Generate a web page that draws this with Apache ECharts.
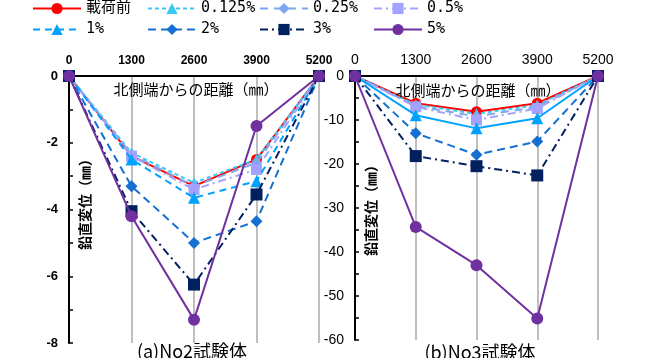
<!DOCTYPE html>
<html><head><meta charset="utf-8">
<script src="https://cdn.jsdelivr.net/npm/echarts@6/dist/echarts.min.js"></script>
<style>html,body{margin:0;padding:0;background:#fff}#c{width:662px;height:358px}</style>
</head><body><div id="c"></div>
<script>
const xVals = [0, 1300, 2600, 3900, 5200];
const xTicks = [0, 1300, 2600, 3900, 5200];
const names = ['載荷前', '0.125%', '0.25%', '0.5%', '1%', '2%', '3%', '5%'];
const leftLabelsY = [0, -2, -4, -6, -8];
const rightLabelsY = [0, -10, -20, -30, -40, -50, -60];

// (a) No2
const a_pre   = [0, -2.4, -3.3, -2.5, 0];
const a_0125  = [0, -2.3, -3.2, -2.5, 0];
const a_025   = [0, -2.35, -3.3, -2.6, 0];
const a_05    = [0, -2.4, -3.4, -2.8, 0];
const a_1     = [0, -2.5, -3.65, -3.15, 0];
const a_2     = [0, -3.3, -5.0, -4.35, 0];
const a_3     = [0, -4.05, -6.25, -3.55, 0];
const a_5     = [0, -4.2, -7.3, -1.5, 0];
// (b) No3
const b_pre   = [0, -6.2, -8.1, -6.2, 0];
const b_0125  = [0, -6.5, -8.6, -6.6, 0];
const b_025   = [0, -6.8, -9.2, -7.0, 0];
const b_05    = [0, -7.0, -10.0, -7.4, 0];
const b_1     = [0, -8.9, -11.9, -9.6, 0];
const b_2     = [0, -13.0, -17.9, -14.9, 0];
const b_3     = [0, -18.2, -20.5, -22.6, 0];
const b_5     = [0, -34.3, -43.0, -55.1, 0];

const leftData = [a_pre, a_0125, a_025, a_05, a_1, a_2, a_3, a_5];
const rightData = [b_pre, b_0125, b_025, b_05, b_1, b_2, b_3, b_5];

const styles = [
  {color:'#FF0000', type:'solid', symbol:'circle', size:11},
  {color:'#3CC8F4', type:[4,3], symbol:'triangle', size:11},
  {color:'#7FA6F0', type:[8,6], symbol:'diamond', size:11},
  {color:'#A3A3FF', type:[8,4,2,4], symbol:'rect', size:11},
  {color:'#00A2FF', type:[7,5], symbol:'triangle', size:12},
  {color:'#1470D2', type:[8,5], symbol:'diamond', size:12},
  {color:'#002060', type:[8,4,2,4], symbol:'rect', size:12},
  {color:'#7030A0', type:'solid', symbol:'circle', size:12}
];

function mk(data, gi, rightChart) {
  return data.map((vals, i) => {
    const s = styles[i];
    let lt = s.type;
    if (rightChart && i === 4) lt = 'solid';
    return {
      name: names[i], type: 'line', xAxisIndex: gi, yAxisIndex: gi,
      data: vals.map((v, k) => [xVals[k], v]),
      symbol: s.symbol, symbolSize: s.size, clip: false,
      itemStyle: {color: s.color},
      lineStyle: {color: s.color, width: 2, type: lt},
      z: 2 + i
    };
  });
}

const legendLeft = [32, 147, 259, 373];
const legendTop = [1, 22];
const legends = names.map((n, i) => ({
  data: [n], left: legendLeft[i % 4], top: legendTop[Math.floor(i / 4)],
  itemWidth: 48, itemHeight: 14, itemGap: 0, padding: 0,
  textStyle: {fontSize: 15, fontFamily: "'DejaVu Sans Mono','Noto Sans CJK JP'", color: '#000'},
  selectedMode: false
}));

function xAxis(gi, bold, fs) {
  return {
    type: 'value', gridIndex: gi, position: 'top', min: 0, max: 5200, interval: 1300,
    axisLine: {show: true, onZero: false, lineStyle: {color: '#000', width: 2}},
    axisTick: {show: false},
    axisLabel: {margin: 9, fontSize: fs, fontWeight: bold ? 'bold' : 'normal', fontFamily: 'Liberation Sans', color: '#000',
      formatter: v => xTicks.includes(v) ? String(v) : ''},
    splitLine: {show: true, lineStyle: {color: '#BFBFBF', width: 2}}
  };
}
function yAxis(gi, min, interval, labels, bold, fs) {
  return {
    type: 'value', gridIndex: gi, min: min, max: 0, interval: interval,
    axisLine: {show: true, onZero: false, lineStyle: {color: '#000', width: 2}},
    axisTick: {show: true, inside: true, length: 4, lineStyle: {color: '#000', width: 1.5}},
    axisLabel: {margin: 11, fontSize: fs, fontWeight: bold ? 'bold' : 'normal', fontFamily: 'Liberation Sans', color: '#000',
      formatter: v => labels.includes(v) ? String(v) : ''},
    splitLine: {show: false}
  };
}

const cjk = "'Noto Sans CJK JP'";
const option = {
  animation: false,
  backgroundColor: '#fff',
  legend: legends,
  grid: [
    {left: 69, top: 76, width: 250, height: 267},
    {left: 355, top: 76, width: 243, height: 264}
  ],
  xAxis: [xAxis(0, true, 12), xAxis(1, false, 14)],
  yAxis: [yAxis(0, -8, 1, leftLabelsY, true, 13), yAxis(1, -60, 5, rightLabelsY, false, 14)],
  series: mk(leftData, 0, false).concat(mk(rightData, 1, true)),
  graphic: [
    {type:'text', x: 196, y: 89, z: 100, style:{text:'北側端からの距離（㎜）', font:"15px "+cjk, fill:'#000', align:'center', verticalAlign:'middle'}},
    {type:'text', x: 478, y: 90, z: 100, style:{text:'北側端からの距離（㎜）', font:"15px "+cjk, fill:'#000', align:'center', verticalAlign:'middle'}},
    {type:'text', x: 85, y: 201, rotation: Math.PI/2, z: 100, style:{text:'鉛直変位（㎜）', font:"bold 14px "+cjk, fill:'#000', align:'center', verticalAlign:'middle'}},
    {type:'text', x: 371, y: 207, rotation: Math.PI/2, z: 100, style:{text:'鉛直変位（㎜）', font:"bold 14px "+cjk, fill:'#000', align:'center', verticalAlign:'middle'}},
    {type:'text', x: 192, y: 351, z: 100, style:{text:'(a)No2試験体', font:"18px "+cjk, fill:'#000', align:'center', verticalAlign:'middle'}},
    {type:'text', x: 480, y: 352, z: 100, style:{text:'(b)No3試験体', font:"18px "+cjk, fill:'#000', align:'center', verticalAlign:'middle'}}
  ]
};
echarts.init(document.getElementById('c')).setOption(option);
</script></body></html>
